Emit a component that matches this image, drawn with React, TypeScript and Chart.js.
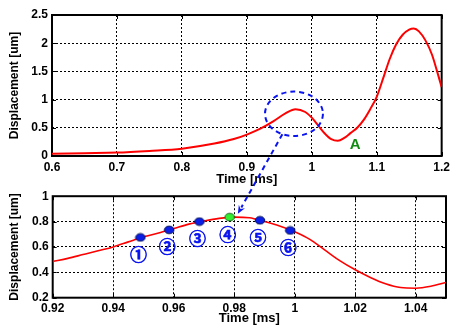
import { useEffect, useRef } from "react";
import { Chart, registerables } from "chart.js";

Chart.register(...registerables);

// Displacement trace over the full window (ms, um)
const overviewTime = [
  0.6, 0.65, 0.7, 0.75, 0.8, 0.85, 0.88, 0.9, 0.92, 0.94, 0.96, 0.975, 0.99, 1.0,
  1.01, 1.02, 1.03, 1.04, 1.05, 1.06, 1.07, 1.08, 1.09, 1.1, 1.11, 1.12, 1.13,
  1.14, 1.15, 1.157, 1.165, 1.175, 1.185, 1.193, 1.2,
];
const overviewDisp = [
  0.04, 0.05, 0.06, 0.09, 0.13, 0.22, 0.3, 0.38, 0.48, 0.61, 0.76, 0.83, 0.78, 0.68,
  0.54, 0.4, 0.3, 0.27, 0.32, 0.41, 0.5, 0.64, 0.83, 1.05, 1.38, 1.72, 1.98,
  2.15, 2.24, 2.26, 2.21, 2.05, 1.8, 1.5, 1.22,
];
const overviewXTicks = [0.6, 0.7, 0.8, 0.9, 1.0, 1.1, 1.2];
const overviewYTicks = [0, 0.5, 1, 1.5, 2, 2.5];

// Zoomed trace around the first peak
const detailTime = [
  0.92, 0.925, 0.93, 0.935, 0.94, 0.945, 0.95, 0.955, 0.96, 0.965, 0.97, 0.975, 0.98,
  0.985, 0.99, 0.995, 1.0, 1.005, 1.01, 1.015, 1.02, 1.025, 1.03, 1.035, 1.04, 1.045, 1.05,
];
const detailDisp = [
  0.485, 0.51, 0.54, 0.57, 0.6, 0.64, 0.68, 0.71, 0.745, 0.78, 0.805, 0.825, 0.835,
  0.83, 0.8, 0.765, 0.72, 0.66, 0.575, 0.49, 0.42, 0.36, 0.31, 0.28, 0.275, 0.29, 0.32,
];
const detailXTicks = [0.92, 0.94, 0.96, 0.98, 1.0, 1.02, 1.04];
const detailYTicks = [0.2, 0.4, 0.6, 0.8, 1.0];

// Sampled points on the zoomed trace
const sampleTime = [0.949, 0.9585, 0.9685, 0.9785, 0.9885, 0.9985];
const sampleDisp = [0.675, 0.735, 0.8, 0.835, 0.81, 0.73];
const sampleLabels = ["①", "②", "③", "④", "⑤", "⑥"];
const highlightedSample = 3;

// Annotations (data units)
const peakRing = { t: 0.9726, v: 0.748, rt: 0.0446, rv: 0.394 };
const ringExitAngle = 1.982; // radians, lower-left side of the ring
const arrowTip = { t: 0.9812, v: 0.862 };
const pointA = { t: 1.067, v: 0.195, text: "A" };

const FONT = "'Liberation Sans', Arial, Helvetica, sans-serif";
const BLUE = "#0a14f0";
const RED = "#ff0000";

const fmt = (v: number) => String(parseFloat(Number(v).toFixed(3)));

function makeMarker(fill: string, stroke: string) {
  const c = document.createElement("canvas");
  c.width = 12;
  c.height = 10;
  const g = c.getContext("2d")!;
  g.beginPath();
  g.ellipse(6, 5, 4.8, 3.8, 0, 0, Math.PI * 2);
  g.fillStyle = fill;
  g.fill();
  g.lineWidth = 1;
  g.strokeStyle = stroke;
  g.stroke();
  return c;
}

// Box frame with inward tick marks, drawn under the traces
const framePlugin = {
  id: "frame",
  beforeDatasetsDraw(chart: any) {
    const { ctx, chartArea: a, scales } = chart;
    ctx.save();
    ctx.setLineDash([]);
    ctx.strokeStyle = "#000";
    ctx.lineWidth = 1;
    ctx.beginPath();
    scales.x.ticks.forEach((t: any) => {
      const px = Math.round(scales.x.getPixelForValue(t.value)) + 0.5;
      ctx.moveTo(px, a.bottom);
      ctx.lineTo(px, a.bottom - 4);
      ctx.moveTo(px, a.top);
      ctx.lineTo(px, a.top + 4);
    });
    scales.y.ticks.forEach((t: any) => {
      const py = Math.round(scales.y.getPixelForValue(t.value)) + 0.5;
      ctx.moveTo(a.left, py);
      ctx.lineTo(a.left + 4, py);
      ctx.moveTo(a.right, py);
      ctx.lineTo(a.right - 4, py);
    });
    ctx.stroke();
    ctx.lineWidth = 2;
    ctx.strokeRect(a.left, a.top, a.right - a.left, a.bottom - a.top);
    ctx.restore();
  },
};

// Dashed ring around the first peak and the "A" label
const overviewNotes = {
  id: "overviewNotes",
  afterDatasetsDraw(chart: any) {
    const { ctx, scales } = chart;
    const { x, y } = scales;
    const cx = x.getPixelForValue(peakRing.t);
    const cy = y.getPixelForValue(peakRing.v);
    const rx = x.getPixelForValue(peakRing.t + peakRing.rt) - cx;
    const ry = cy - y.getPixelForValue(peakRing.v + peakRing.rv);
    ctx.save();
    ctx.strokeStyle = BLUE;
    ctx.lineWidth = 2;
    ctx.setLineDash([5, 4]);
    ctx.beginPath();
    ctx.ellipse(cx, cy, rx, ry, 0, 0, Math.PI * 2);
    ctx.stroke();
    ctx.setLineDash([]);
    ctx.fillStyle = "#118a11";
    ctx.font = `bold 15px ${FONT}`;
    ctx.textAlign = "center";
    ctx.textBaseline = "middle";
    ctx.fillText(pointA.text, x.getPixelForValue(pointA.t), y.getPixelForValue(pointA.v));
    ctx.restore();
  },
};

// Circled index under each sample point
const sampleNotes = {
  id: "sampleNotes",
  afterDatasetsDraw(chart: any) {
    const { ctx, scales } = chart;
    ctx.save();
    ctx.fillStyle = BLUE;
    ctx.strokeStyle = BLUE;
    ctx.lineWidth = 0.6;
    ctx.font = `bold 17px 'Noto Sans CJK JP', 'DejaVu Sans', sans-serif`;
    ctx.textAlign = "center";
    ctx.textBaseline = "middle";
    sampleLabels.forEach((lab, i) => {
      const px = scales.x.getPixelForValue(sampleTime[i]);
      const py = scales.y.getPixelForValue(sampleDisp[i]);
      ctx.fillText(lab, px - 2, py + 17);
      ctx.strokeText(lab, px - 2, py + 17);
    });
    ctx.restore();
  },
};

function axisOptions(o: {
  xMin: number; xMax: number; yMin: number; yMax: number;
  xTicks: number[]; yTicks: number[];
  xHeight: number; xTitlePad: number; yWidth: number;
}) {
  const tickFont = { family: FONT, size: 12, weight: "bold" as const };
  const titleFont = { family: FONT, size: 13, weight: "bold" as const, lineHeight: 1 };
  const grid = { color: "#000", lineWidth: 1, drawTicks: false };
  const border = { display: false, dash: [2, 2] };
  return {
    x: {
      type: "linear" as const,
      min: o.xMin,
      max: o.xMax,
      afterBuildTicks: (s: any) => { s.ticks = o.xTicks.map((v) => ({ value: v })); },
      afterFit: (s: any) => { s.height = o.xHeight; },
      grid,
      border,
      ticks: { font: tickFont, color: "#000", padding: 4, maxRotation: 0, autoSkip: false, callback: (v: any) => fmt(v) },
      title: { display: true, text: "Time [ms]", font: titleFont, color: "#000", padding: { top: 0, bottom: o.xTitlePad } },
    },
    y: {
      type: "linear" as const,
      min: o.yMin,
      max: o.yMax,
      afterBuildTicks: (s: any) => { s.ticks = o.yTicks.map((v) => ({ value: v })); },
      afterFit: (s: any) => { s.width = o.yWidth; },
      grid,
      border,
      ticks: { font: tickFont, color: "#000", padding: 4, autoSkip: false, callback: (v: any) => fmt(v) },
      title: { display: true, text: "Displacement [um]", font: { family: FONT, size: 12, weight: "bold" as const, lineHeight: 1 }, color: "#000", padding: { top: 9, bottom: 0 } },
    },
  };
}

export default function App() {
  const topRef = useRef<HTMLCanvasElement>(null);
  const bottomRef = useRef<HTMLCanvasElement>(null);
  const overlayRef = useRef<HTMLCanvasElement>(null);

  useEffect(() => {
    const top = new Chart(topRef.current!, {
      type: "scatter",
      data: {
        datasets: [
          {
            data: overviewTime.map((t, i) => ({ x: t, y: overviewDisp[i] })),
            showLine: true,
            borderColor: RED,
            borderWidth: 2,
            pointRadius: 0,
            cubicInterpolationMode: "monotone",
          },
        ],
      },
      options: {
        animation: false,
        responsive: false,
        events: [],
        layout: { padding: { top: 15, right: 8, left: 0, bottom: 0 } },
        plugins: { legend: { display: false }, tooltip: { enabled: false } },
        scales: axisOptions({
          xMin: 0.6, xMax: 1.2, yMin: 0, yMax: 2.5,
          xTicks: overviewXTicks, yTicks: overviewYTicks,
          xHeight: 34, xTitlePad: 4.5, yWidth: 52,
        }),
      },
      plugins: [framePlugin, overviewNotes],
    });

    const blueMarker = makeMarker("#0b1ee6", "#00105a");
    const greenMarker = makeMarker("#33ee33", "#116611");

    const bottom = new Chart(bottomRef.current!, {
      type: "scatter",
      data: {
        datasets: [
          {
            data: sampleTime.map((t, i) => ({ x: t, y: sampleDisp[i] })),
            showLine: false,
            pointStyle: sampleTime.map((_, i) => (i === highlightedSample ? greenMarker : blueMarker)) as any,
            pointRadius: 5,
          },
          {
            data: detailTime.map((t, i) => ({ x: t, y: detailDisp[i] })),
            showLine: true,
            borderColor: RED,
            borderWidth: 1.6,
            pointRadius: 0,
            cubicInterpolationMode: "monotone",
          },
        ],
      },
      options: {
        animation: false,
        responsive: false,
        events: [],
        layout: { padding: { top: 6.7, right: 8, left: 0, bottom: 0 } },
        plugins: { legend: { display: false }, tooltip: { enabled: false } },
        scales: axisOptions({
          xMin: 0.92, xMax: 1.05, yMin: 0.2, yMax: 1.0,
          xTicks: detailXTicks, yTicks: detailYTicks,
          xHeight: 27.3, xTitlePad: 0, yWidth: 52.7,
        }),
      },
      plugins: [framePlugin, sampleNotes],
    });

    // Dashed arrow from the ring in the overview to the zoomed peak
    const ov = overlayRef.current!;
    const g = ov.getContext("2d")!;
    g.clearRect(0, 0, ov.width, ov.height);
    const tx = top.scales.x, ty = top.scales.y;
    const bx = bottom.scales.x, by = bottom.scales.y;
    const bottomOffset = bottomRef.current!.offsetTop;
    const sx = tx.getPixelForValue(peakRing.t + peakRing.rt * Math.cos(ringExitAngle));
    const sy = ty.getPixelForValue(peakRing.v - peakRing.rv * Math.sin(ringExitAngle));
    const ex = bx.getPixelForValue(arrowTip.t);
    const ey = by.getPixelForValue(arrowTip.v) + bottomOffset;
    const ang = Math.atan2(ey - sy, ex - sx);
    const head = 9;
    g.strokeStyle = BLUE;
    g.fillStyle = BLUE;
    g.lineWidth = 2;
    g.setLineDash([5, 4]);
    g.beginPath();
    g.moveTo(sx, sy);
    g.lineTo(ex - Math.cos(ang) * head * 0.8, ey - Math.sin(ang) * head * 0.8);
    g.stroke();
    g.setLineDash([]);
    g.beginPath();
    g.moveTo(ex, ey);
    g.lineTo(ex - head * Math.cos(ang - 0.4), ey - head * Math.sin(ang - 0.4));
    g.lineTo(ex - head * 0.6 * Math.cos(ang), ey - head * 0.6 * Math.sin(ang));
    g.lineTo(ex - head * Math.cos(ang + 0.4), ey - head * Math.sin(ang + 0.4));
    g.closePath();
    g.fill();

    return () => {
      top.destroy();
      bottom.destroy();
    };
  }, []);

  return (
    <div style={{ position: "fixed", left: 0, top: 0, width: 454, height: 325, background: "#fff", overflow: "hidden" }}>
      <canvas ref={topRef} width={454} height={190} style={{ position: "absolute", left: 0, top: 0 }} />
      <canvas ref={bottomRef} width={454} height={140} style={{ position: "absolute", left: 0, top: 185 }} />
      <canvas ref={overlayRef} width={454} height={325} style={{ position: "absolute", left: 0, top: 0, pointerEvents: "none" }} />
    </div>
  );
}
